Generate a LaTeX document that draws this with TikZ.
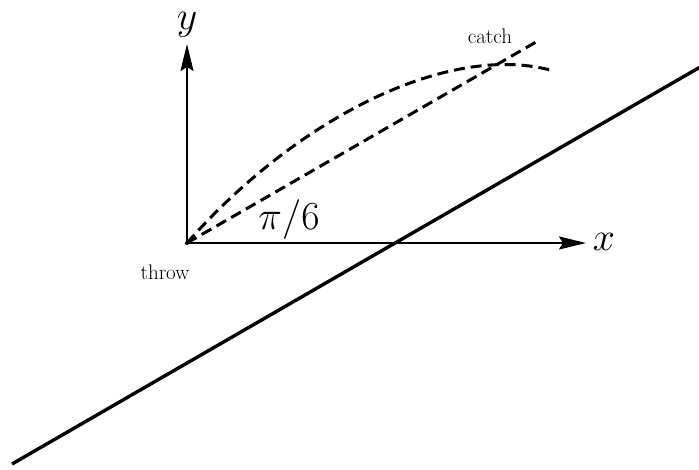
\documentclass[tikz,border=0pt]{standalone}
\usepackage{graphicx}
\usetikzlibrary{arrows.meta}
\newcommand{\bigtxt}[1]{\scalebox{1.6}{\Huge #1}}
\newcommand{\smalltxt}[1]{\scalebox{1.22}{\LARGE #1}}
\begin{document}
\begin{tikzpicture}[x=1pt,y=-1pt,
  axis/.style={line width=2pt,-{Stealth[length=27pt,width=13pt,inset=4pt]}},
  traj/.style={line width=3pt,dash pattern=on 11pt off 6pt},
  ground/.style={line width=3.4pt},
  biglabel/.style={inner sep=0pt},
  smalllabel/.style={inner sep=0pt}]
\useasboundingbox (0,0) rectangle (699,470);
\coordinate (O) at (187,243);
\coordinate (xend) at (586,243);
\coordinate (yend) at (187,44);
\coordinate (lineend) at (536,42);
\coordinate (parend) at (550,70);
\coordinate (g1) at (12,464);
\coordinate (g2) at (702,66);
\draw[ground] (g1) -- (g2);
\draw[axis] (O) -- (xend);
\draw[axis] (O) -- (yend);
\draw[traj] (O) -- (lineend);
\draw[traj] (O) .. controls (297,118) and (447,43) .. (parend);
\fill (O) circle (2pt);
\node[biglabel] (ylab) at (187,25) {\bigtxt{$y$}};
\node[biglabel] (xlab) at (604,242) {\bigtxt{$x$}};
\node[biglabel] (ang) at (289,220) {\bigtxt{$\pi/6$}};
\node[smalllabel] (catch) at (490,36) {\smalltxt{catch}};
\node[smalllabel] (throw) at (165,272) {\smalltxt{throw}};
\end{tikzpicture}
\end{document}
